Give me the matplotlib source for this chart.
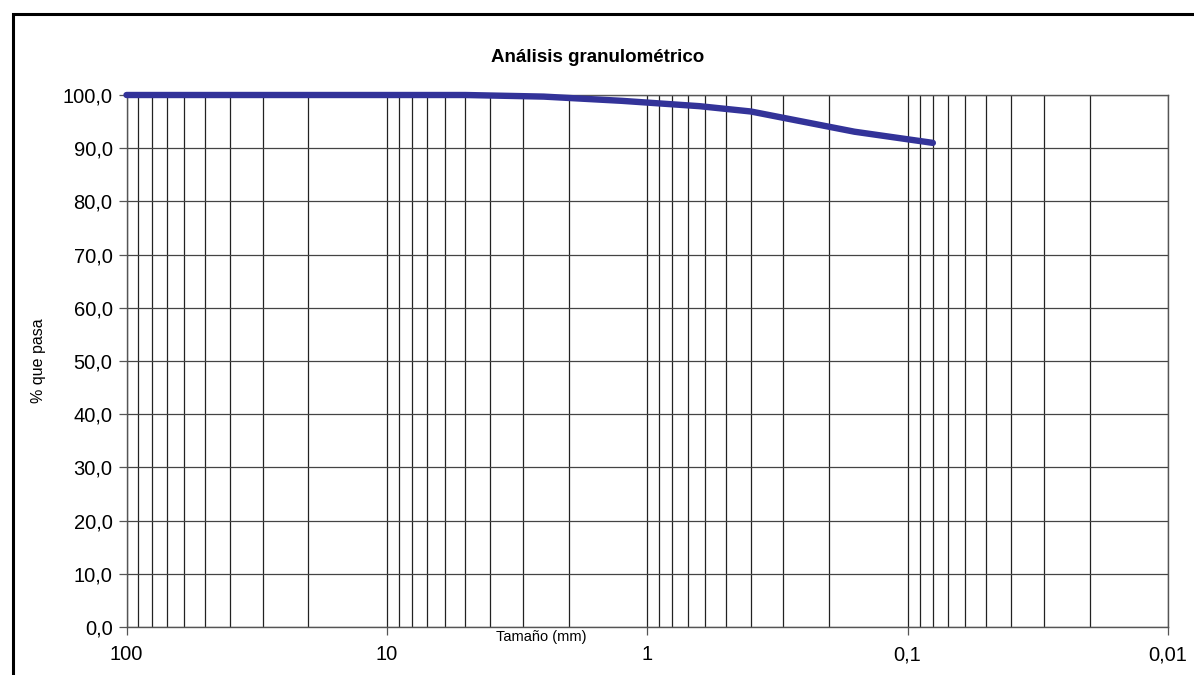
import matplotlib
matplotlib.use("Agg")
import matplotlib.pyplot as plt
from matplotlib.ticker import FixedLocator, FuncFormatter, LogLocator, NullFormatter
from matplotlib.patches import Rectangle

plt.rcParams['font.family'] = ['Liberation Sans', 'DejaVu Sans']

# Data
tamano_mm = [100, 50, 25, 20, 12.5, 10, 5, 2.5, 1.25, 0.63, 0.4, 0.16, 0.08]
pct_pasa = [100, 100, 100, 100, 100, 100, 100, 99.7, 98.9, 97.9, 96.9, 93.1, 91.0]
x_ticks = [100, 10, 1, 0.1, 0.01]
x_tick_labels = ["100", "10", "1", "0,1", "0,01"]
y_ticks = [0, 10, 20, 30, 40, 50, 60, 70, 80, 90, 100]

W, H = 1194, 675
fig = plt.figure(figsize=(W / 100, H / 100), dpi=100)
ax = fig.add_axes([126.5 / W, 1 - 627 / H, (1168 - 126.5) / W, (627 - 95) / H])

ax.set_xscale('log')
ax.set_xlim(100, 0.01)
ax.set_ylim(0, 100)

ax.plot(tamano_mm, pct_pasa, color='#333399', lw=4.6, solid_capstyle='round',
        solid_joinstyle='round', zorder=5, clip_on=False)

ax.xaxis.set_major_locator(FixedLocator(x_ticks))
ax.xaxis.set_major_formatter(FuncFormatter(lambda v, p: x_tick_labels[x_ticks.index(min(x_ticks, key=lambda t: abs(t - v)))]))
ax.xaxis.set_minor_locator(LogLocator(base=10, subs=range(2, 10), numticks=50))
ax.xaxis.set_minor_formatter(NullFormatter())
ax.yaxis.set_major_locator(FixedLocator(y_ticks))
ax.yaxis.set_major_formatter(FuncFormatter(lambda v, p: f"{v:.1f}".replace('.', ',')))

ax.grid(True, which='both', axis='x', color='#222222', lw=0.9)
ax.grid(True, which='major', axis='y', color='#444444', lw=0.9)
ax.set_axisbelow(True)

ax.tick_params(axis='both', which='major', labelsize=14.5, length=6, width=0.9,
               color='#555555', direction='out')
ax.tick_params(axis='x', which='major', pad=7)
ax.tick_params(axis='y', which='major', pad=4)
ax.tick_params(axis='x', which='minor', length=0)
for s in ax.spines.values():
    s.set_color('#555555')
    s.set_linewidth(1.0)

ax.set_ylabel('% que pasa', fontsize=11.5, labelpad=12)
fig.text(541 / W, 1 - 637 / H, 'Tamaño (mm)', fontsize=10.5, ha='center', va='center')
fig.text(598 / W, 1 - 57 / H, 'Análisis granulométrico', fontsize=13.5,
         fontweight='bold', ha='center', va='center')

# Outer chart frame
fig.patches.append(Rectangle((12.5 / W, -0.1), 1.2, 1 - 14.5 / H + 0.1,
                             transform=fig.transFigure, fill=False,
                             edgecolor='black', lw=2.2, zorder=0))

fig.savefig('out.png', dpi=100)
